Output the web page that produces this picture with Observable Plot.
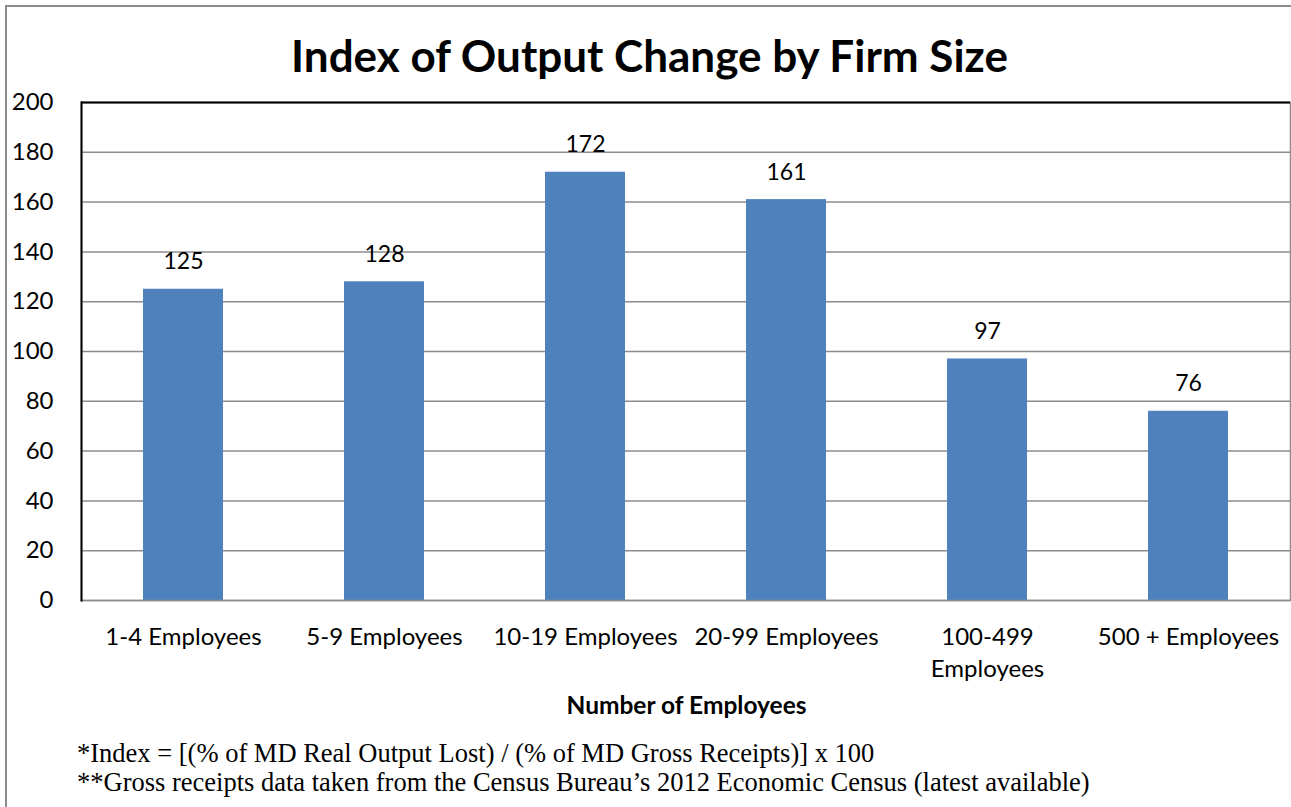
<!DOCTYPE html>
<html>
<head>
<meta charset="utf-8">
<script src="https://cdn.jsdelivr.net/npm/d3@7"></script>
<script src="https://cdn.jsdelivr.net/npm/@observablehq/plot@0.6"></script>
<style>
  html, body { margin: 0; padding: 0; background: #fff; }
  #wrap { position: relative; width: 1291px; height: 807px; overflow: hidden; background: #fff; }
  #border { position: absolute; left: 5px; top: 5px; width: 1400px; height: 900px; border-left: 2px solid #8c8c8c; border-top: 2px solid #8c8c8c; box-sizing: border-box; }
  #title { position: absolute; left: 0; width: 1299px; top: 30px; text-align: center; font-family: Lato, "Open Sans", sans-serif; font-weight: bold; font-size: 44px; line-height: 50px; color: #000; white-space: nowrap; }
  #xtitle { position: absolute; left: 81px; width: 1211px; top: 690px; text-align: center; font-family: Lato, sans-serif; font-weight: bold; font-size: 24.5px; line-height: 30px; color: #000; white-space: nowrap; }
  .note { position: absolute; left: 77px; font-family: "Liberation Serif", "Times New Roman", serif; font-size: 26.5px; line-height: 29px; color: #000; white-space: nowrap; }
  #plot { position: absolute; left: 0; top: 0; }
</style>
</head>
<body>
<div id="wrap">
  <div id="border"></div>
  <div id="plot"></div>
  <div id="title">Index of Output Change by Firm Size</div>
  <div id="xtitle">Number of Employees</div>
  <div class="note" style="top:739px">*Index = [(% of MD Real Output Lost) / (% of MD Gross Receipts)] x 100</div>
  <div class="note" style="top:768px">**Gross receipts data taken from the Census Bureau’s 2012 Economic Census (latest available)</div>
</div>
<script>
const categories = ["1-4 Employees", "5-9 Employees", "10-19 Employees", "20-99 Employees", "100-499 Employees", "500 + Employees"];
const tickLabels = ["1-4 Employees", "5-9 Employees", "10-19 Employees", "20-99 Employees", "100-499\nEmployees", "500 + Employees"];
const values = [125, 128, 172, 161, 97, 76];
const yTicks = [0, 20, 40, 60, 80, 100, 120, 140, 160, 180, 200];

const data = categories.map((c, i) => ({category: c, value: values[i]}));
const labelOf = new Map(categories.map((c, i) => [c, tickLabels[i]]));

const chart = Plot.plot({
  width: 1291,
  height: 807,
  marginTop: 102,
  marginLeft: 81,
  marginRight: 1,
  marginBottom: 207,
  style: {background: "transparent", fontFamily: "Lato, sans-serif", overflow: "visible"},
  x: {domain: categories, paddingInner: 0.6, paddingOuter: 0.3, align: 0.5},
  y: {domain: [0, 200]},
  marks: [
    Plot.gridY(yTicks, {stroke: "#8c8c8c", strokeOpacity: 1, strokeWidth: 1.5}),
    Plot.barY(data, {x: "category", y: "value", fill: "#4f81bd"}),
    Plot.text(data, {x: "category", y: "value", text: d => String(d.value), lineAnchor: "bottom", dy: -20, fontSize: 23, fill: "#000"}),
    Plot.axisY(yTicks, {tickSize: 0, tickPadding: 28, fontSize: 24, label: null, fill: "#000"}),
    Plot.axisX({tickSize: 0, tickPadding: 22, fontSize: 24, lineHeight: 1.33, label: null, tickFormat: d => labelOf.get(d), fill: "#000"}),
    Plot.frame({stroke: "#8c8c8c", strokeWidth: 1.5}),
    Plot.ruleY([200], {stroke: "#000", strokeWidth: 2}),
    Plot.frame({anchor: "left", stroke: "#000", strokeWidth: 2})
  ]
});
document.getElementById("plot").appendChild(chart);
</script>
</body>
</html>
